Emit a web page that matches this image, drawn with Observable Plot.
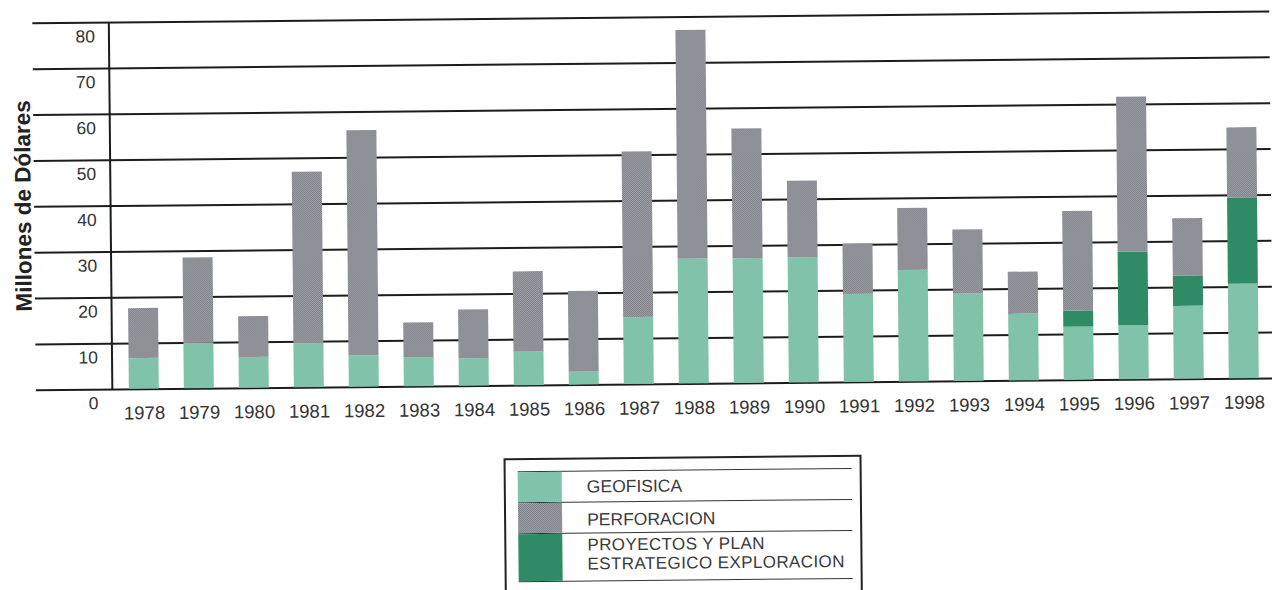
<!DOCTYPE html>
<html>
<head>
<meta charset="utf-8">
<script src="https://cdn.jsdelivr.net/npm/d3@7"></script>
<script src="https://cdn.jsdelivr.net/npm/@observablehq/plot@0.6"></script>
<style>
  html, body { margin: 0; padding: 0; background: #fff; overflow: hidden; }
  body { font-family: "Liberation Sans", Arial, Helvetica, sans-serif; }
  #wrap { position: relative; width: 1272px; height: 590px; transform: rotate(-0.55deg); transform-origin: 636px 300px; }
  #chart svg { display: block; }
  #legend { position: absolute; left: 502px; top: 457px; width: 358px; height: 150px; border: 2px solid #222; box-sizing: border-box; background: #fff; }
  #legend .ln { position: absolute; left: 12px; width: 334px; height: 0; border-top: 1.5px solid #333; }
  #legend .sw { position: absolute; left: 12px; width: 44px; }
  #legend .tx { position: absolute; left: 81px; font-size: 17.5px; color: #3a3a3a; white-space: nowrap; line-height: 20px; }
</style>
</head>
<body>
<div id="wrap">
  <div id="chart"></div>
  <div id="legend"></div>
</div>
<script>
// ---- data (millones de dólares) ----
const years = ["1978","1979","1980","1981","1982","1983","1984","1985","1986","1987","1988","1989","1990","1991","1992","1993","1994","1995","1996","1997","1998"];
const geofisica   = [6.7, 9.9, 6.7, 9.6, 6.8, 6.3, 6.0, 7.3, 2.8, 14.6, 27.2, 27.2, 27.3, 19.2, 24.3, 19.0, 14.5, 11.6, 11.8, 15.9, 20.6];
const proyectos   = [0, 0, 0, 0, 0, 0, 0, 0, 0, 0, 0, 0, 0, 0, 0, 0, 0, 3.5, 16.0, 6.6, 18.8];
const perforacion = [10.9, 18.6, 8.9, 37.4, 49.1, 7.6, 10.6, 17.5, 17.6, 36.1, 49.9, 28.3, 16.7, 11.0, 13.5, 14.0, 9.2, 21.7, 33.8, 12.5, 15.3];
const seriesNames = ["GEOFISICA", "PROYECTOS Y PLAN ESTRATEGICO EXPLORACION", "PERFORACION"];
const seriesColors = ["#80c2aa", "#2f8b66", "url(#perfPattern)"];
const yTicks = [0, 10, 20, 30, 40, 50, 60, 70, 80];
const yTitle = "Millones de Dólares";

// long table, stacked bottom-to-top: geofisica, proyectos, perforación
const table = [];
years.forEach((yr, i) => {
  table.push({year: yr, series: seriesNames[0], value: geofisica[i]});
  table.push({year: yr, series: seriesNames[1], value: proyectos[i]});
  table.push({year: yr, series: seriesNames[2], value: perforacion[i]});
});

const NS = "http://www.w3.org/2000/svg";
const defsMark = () => {
  const defs = document.createElementNS(NS, "defs");
  defs.innerHTML = '<pattern id="perfPattern" width="2" height="2" patternUnits="userSpaceOnUse">' +
    '<rect width="2" height="2" fill="#a2a4aa"/>' +
    '<rect width="1" height="1" fill="#7b7d84"/>' +
    '<rect x="1" y="1" width="1" height="1" fill="#7b7d84"/></pattern>';
  return defs;
};

const chart = Plot.plot({
  width: 1272,
  height: 440,
  marginTop: 17,
  marginBottom: 56,
  marginLeft: 117,
  marginRight: 3,
  style: {fontFamily: "Liberation Sans, Arial, Helvetica, sans-serif", background: "transparent", overflow: "visible"},
  x: {domain: years, paddingInner: 0.46, paddingOuter: 0.2, axis: null},
  y: {domain: [0, 80], axis: null},
  color: {domain: seriesNames, range: seriesColors},
  marks: [
    defsMark,
    Plot.ruleY(yTicks, {y: d => d, stroke: "#1c1c1c", strokeWidth: 2, insetLeft: -82, insetRight: -3}),
    Plot.ruleX([years[0]], {x: d => d, y1: 0, y2: 80, dx: -32, stroke: "#1c1c1c", strokeWidth: 2}),
    Plot.barY(table, {x: "year", y: "value", fill: "series"}),
    Plot.text(yTicks, {y: d => d, text: d => String(d), frameAnchor: "left", textAnchor: "end", dx: -20, dy: 14, fontSize: 17.5, fill: "#333"}),
    Plot.text(years, {x: d => d, text: d => d, frameAnchor: "bottom", dy: 30, fontSize: 18.5, fill: "#333"}),
    Plot.text([yTitle], {text: d => d, frameAnchor: "left", textAnchor: "middle", dx: -93, dy: -1, rotate: -90, fontSize: 22.5, fontWeight: "bold", fill: "#222"})
  ]
});
document.getElementById("chart").appendChild(chart);

// ---- legend (boxed, as in the original) ----
const legend = document.getElementById("legend");
const lines = [11, 41.5, 72.5, 120.5];
lines.forEach(t => {
  const d = document.createElement("div");
  d.className = "ln"; d.style.top = t + "px"; legend.appendChild(d);
});
const swatches = [
  {top: 12, h: 29.5, bg: seriesColors[0]},
  {top: 42.5, h: 30, bg: "repeating-conic-gradient(#7b7d84 0 25%, #a2a4aa 0 50%) 0 0 / 2px 2px"},
  {top: 73.5, h: 47, bg: seriesColors[1]}
];
swatches.forEach(s => {
  const d = document.createElement("div");
  d.className = "sw"; d.style.top = s.top + "px"; d.style.height = s.h + "px"; d.style.background = s.bg;
  legend.appendChild(d);
});
const labels = [
  {top: 17, text: "GEOFISICA", fs: 17.5, lh: 20, ls: 0},
  {top: 49.5, text: "PERFORACION", fs: 17.5, lh: 20, ls: 0},
  {top: 75.5, text: "PROYECTOS Y PLAN", fs: 17, lh: 19, ls: 0.4},
  {top: 94.5, text: "ESTRATEGICO EXPLORACION", fs: 17, lh: 19, ls: 0.4}
];
labels.forEach(l => {
  const d = document.createElement("div");
  d.className = "tx"; d.style.top = l.top + "px"; d.textContent = l.text;
  d.style.fontSize = l.fs + "px"; d.style.lineHeight = l.lh + "px"; d.style.letterSpacing = l.ls + "px";
  legend.appendChild(d);
});
</script>
</body>
</html>
